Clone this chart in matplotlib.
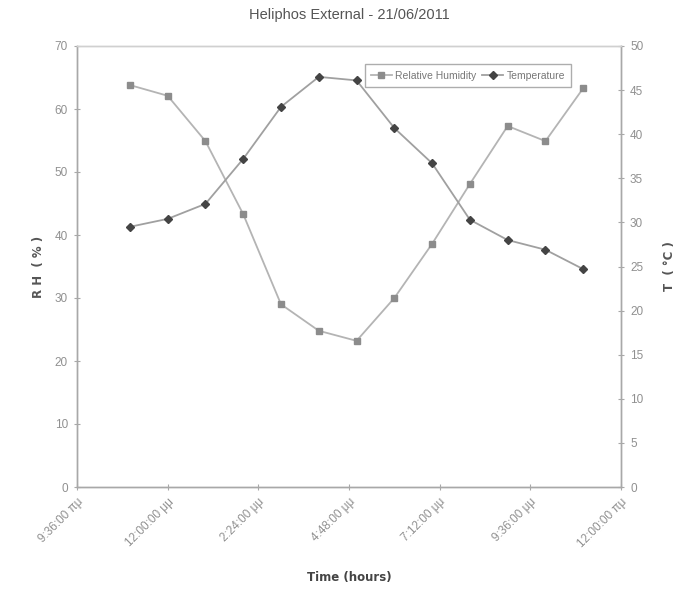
import matplotlib
matplotlib.use("Agg")
import matplotlib.pyplot as plt
from matplotlib.lines import Line2D

hours = [11, 12, 13, 14, 15, 16, 17, 18, 19, 20, 21, 22, 23]
rh = [63.8, 62.1, 54.9, 43.3, 29.0, 24.8, 23.2, 30.0, 38.6, 48.1, 57.3, 54.9, 63.3]
temp = [29.5, 30.4, 32.1, 37.2, 43.1, 46.5, 46.1, 40.7, 36.7, 30.3, 28.0, 26.9, 24.7]
xtick_hours = [9.6, 12.0, 14.4, 16.8, 19.2, 21.6, 24.0]
xtick_labels = ["9:36:00 πμ", "12:00:00 μμ", "2:24:00 μμ", "4:48:00 μμ",
                "7:12:00 μμ", "9:36:00 μμ", "12:00:00 πμ"]

plt.rcParams['font.family'] = ['Liberation Sans', 'DejaVu Sans']

fig = plt.figure(figsize=(6.79, 5.94), dpi=100)
ax = fig.add_axes([77/679, 1-487/594, (621-77)/679, (487-46)/594])
ax2 = ax.twinx()

tickcol = '#909090'
spinecol = '#a8a8a8'

ax.plot(hours, rh, color='#b4b4b4', lw=1.3, marker='s', ms=5,
        mfc='#8c8c8c', mec='#8c8c8c', zorder=3)
ax2.plot(hours, temp, color='#a0a0a0', lw=1.3, marker='D', ms=4,
         mfc='#444444', mec='#444444', zorder=3)

ax.set_xlim(9.6, 24.0)
ax.set_ylim(0, 70)
ax2.set_ylim(0, 50)
ax.set_yticks(range(0, 71, 10))
ax2.set_yticks(range(0, 51, 5))
ax.set_xticks(xtick_hours)
ax.set_xticklabels(xtick_labels, rotation=45, ha='right', va='top',
                   rotation_mode='anchor')

for a in (ax, ax2):
    for s in a.spines.values():
        s.set_color(spinecol)
        s.set_linewidth(1.0)
    a.spines['top'].set_color('#d0d0d0')
    a.tick_params(colors=spinecol, labelcolor=tickcol, direction='inout',
                  length=5, labelsize=8.5)
ax.tick_params(axis='x', pad=4)
ax.tick_params(axis='y', pad=4)
ax2.tick_params(axis='y', pad=4)

ax.set_ylabel("R H  ( % )", fontsize=8.5, fontweight='bold', color='#555555',
              family=['DejaVu Sans'], labelpad=7)
ax2.set_ylabel("T  ( °C )", fontsize=8.5, fontweight='bold', color='#555555',
               family=['DejaVu Sans'], labelpad=14)
fig.text(349/679, 1-578/594, "Time (hours)", ha='center', va='center',
         fontsize=8.5, fontweight='bold', color='#444444', family=['DejaVu Sans'])
fig.text(349/679, 1-15/594, "Heliphos External - 21/06/2011", ha='center',
         va='center', fontsize=10.5, color='#555555')

handles = [Line2D([], [], color='#b4b4b4', lw=1.3, marker='s', ms=5,
                  mfc='#8c8c8c', mec='#8c8c8c'),
           Line2D([], [], color='#a0a0a0', lw=1.3, marker='D', ms=4,
                  mfc='#444444', mec='#444444')]
leg = ax2.legend(handles, ["Relative Humidity", "Temperature"], ncol=2,
                 loc='upper right', bbox_to_anchor=(0.918, 0.97),
                 fontsize=7.5, frameon=True, fancybox=False,
                 handlelength=2.0, handletextpad=0.3, columnspacing=0.6,
                 borderpad=0.6, labelcolor='#777777')
leg.get_frame().set_edgecolor('#999999')
leg.get_frame().set_linewidth(1.0)

fig.savefig("out.png", dpi=100)
